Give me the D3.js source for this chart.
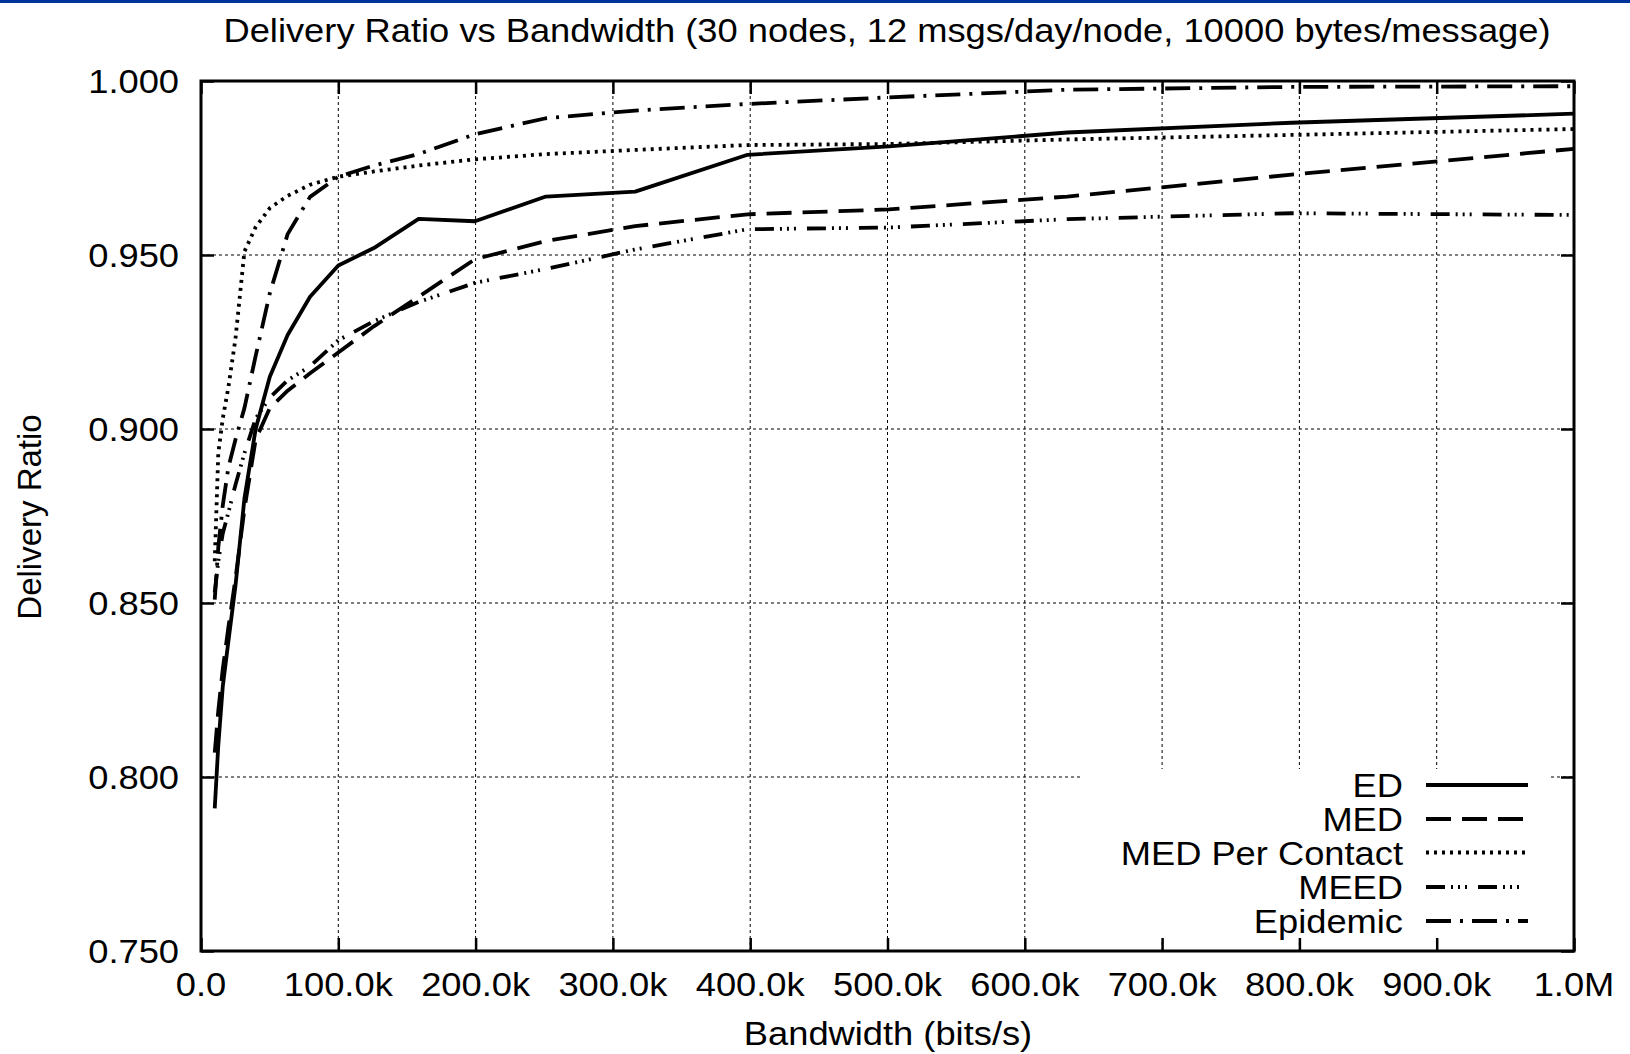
<!DOCTYPE html>
<html><head><meta charset="utf-8">
<script src="https://cdn.jsdelivr.net/npm/d3@7"></script>
<style>html,body{margin:0;padding:0;background:#fff;} svg{display:block;}</style>
</head><body>
<script>
// ---------- data ----------
const title = "Delivery Ratio vs Bandwidth (30 nodes, 12 msgs/day/node, 10000 bytes/message)";
const xLabel = "Bandwidth (bits/s)";
const yLabel = "Delivery Ratio";

const bandwidth = [10000, 12589, 15849, 19953, 25119, 31623, 39811, 50119, 63096, 79433,
  100000, 125893, 158489, 199526, 251189, 316228, 398107, 501187, 630957, 794328, 1000000];

const seriesNames = ["ED", "MED", "MED Per Contact", "MEED", "Epidemic"];
const edValues = [0.791, 0.809, 0.826, 0.839, 0.855, 0.880, 0.900, 0.915, 0.927, 0.938,
  0.947, 0.952, 0.9604, 0.9597, 0.9668, 0.9682, 0.9788, 0.9812, 0.9852, 0.9880, 0.9906];
const medValues = [0.807, 0.819, 0.831, 0.843, 0.857, 0.877, 0.897, 0.906, 0.911, 0.916,
  0.922, 0.9295, 0.938, 0.9488, 0.954, 0.9583, 0.9617, 0.9631, 0.9668, 0.9731, 0.9805];
const medPerContactValues = [0.862, 0.893, 0.903, 0.912, 0.926, 0.951, 0.958, 0.9635, 0.967, 0.9702,
  0.9725, 0.974, 0.9757, 0.9775, 0.979, 0.9802, 0.9816, 0.9819, 0.9832, 0.9845, 0.9862];
const meedValues = [0.853, 0.862, 0.870, 0.876, 0.884, 0.893, 0.903, 0.909, 0.914, 0.918,
  0.9255, 0.931, 0.9365, 0.942, 0.946, 0.9516, 0.9574, 0.9579, 0.9603, 0.9620, 0.9615];
const epidemicValues = [0.851, 0.866, 0.878, 0.889, 0.897, 0.906, 0.921, 0.939, 0.956, 0.9667,
  0.9725, 0.9757, 0.979, 0.9847, 0.9893, 0.9915, 0.9934, 0.9953, 0.9975, 0.9983, 0.9985];

const xTicks = [0, 100000, 200000, 300000, 400000, 500000, 600000, 700000, 800000, 900000, 1000000];
const xTickLabels = ["0.0", "100.0k", "200.0k", "300.0k", "400.0k", "500.0k", "600.0k", "700.0k", "800.0k", "900.0k", "1.0M"];
const yTicks = [0.75, 0.80, 0.85, 0.90, 0.95, 1.00];
const yTickLabels = ["0.750", "0.800", "0.850", "0.900", "0.950", "1.000"];

// ---------- styles ----------
const dashes = ["none", "25,11", "3,5", "19,6,2,5,2,5,2,11", "25,9,3,9"];
const W = 1630, H = 1054;
const m = {l: 201, r: 1574, t: 81, b: 951};
const FS = 33, SX = 1.1;
const LW = 3.8;
const FONT = "'Liberation Sans', Arial, Helvetica, sans-serif";

const svg = d3.select("body").append("svg").attr("width", W).attr("height", H)
  .style("font-family", FONT);
svg.append("rect").attr("width", W).attr("height", H).attr("fill", "#fff");
svg.append("rect").attr("x", 0).attr("y", 0).attr("width", W).attr("height", 3).attr("fill", "#003399");

const x = d3.scaleLinear().domain([0, 1000000]).range([m.l, m.r]);
const y = d3.scaleLinear().domain([0.75, 1.0]).range([m.b, m.t]);

// grid
const grid = svg.append("g").attr("stroke", "#000").attr("stroke-width", 1).attr("stroke-dasharray", "3,3");
xTicks.slice(1, -1).forEach(v => grid.append("line")
  .attr("x1", x(v)).attr("x2", x(v)).attr("y1", m.b).attr("y2", m.t));
yTicks.slice(1, -1).forEach(v => grid.append("line")
  .attr("x1", m.l).attr("x2", m.r).attr("y1", y(v)).attr("y2", y(v)));

// legend box (covers grid)
svg.append("rect").attr("x", 1081).attr("y", 769).attr("width", 469).attr("height", 172).attr("fill", "#fff");

// series
const allSeries = [edValues, medValues, medPerContactValues, meedValues, epidemicValues];
const line = d3.line().x((d, i) => x(bandwidth[i])).y(d => y(d));
allSeries.forEach((vals, k) => {
  svg.append("path").datum(vals).attr("d", line)
    .attr("fill", "none").attr("stroke", "#000").attr("stroke-width", LW)
    .attr("stroke-linejoin", "round")
    .attr("stroke-dasharray", dashes[k]);
});

// axes ticks (inside, all four sides)
const tk = 13;
const axG = svg.append("g");
axG.append("g").attr("transform", `translate(0,${m.b})`)
  .call(d3.axisBottom(x).tickValues(xTicks).tickSize(-tk).tickFormat(""));
axG.append("g").attr("transform", `translate(0,${m.t})`)
  .call(d3.axisTop(x).tickValues(xTicks).tickSize(-tk).tickFormat(""));
axG.append("g").attr("transform", `translate(${m.l},0)`)
  .call(d3.axisLeft(y).tickValues(yTicks).tickSize(-tk).tickFormat(""));
axG.append("g").attr("transform", `translate(${m.r},0)`)
  .call(d3.axisRight(y).tickValues(yTicks).tickSize(-tk).tickFormat(""));
axG.selectAll(".domain").remove();
axG.selectAll(".tick line").attr("stroke", "#000").attr("stroke-width", 2.5);
svg.append("rect").attr("x", m.l).attr("y", m.t).attr("width", m.r - m.l).attr("height", m.b - m.t)
  .attr("fill", "none").attr("stroke", "#000").attr("stroke-width", 3);

// text helper
function txt(px, py, s, anchor) {
  svg.append("text").attr("transform", `translate(${px},${py}) scale(${SX},1)`)
    .attr("text-anchor", anchor).attr("font-size", FS).attr("fill", "#000").text(s);
}
txt(887, 42, title, "middle");
yTicks.forEach((v, i) => txt(179, y(v) + 12, yTickLabels[i], "end"));
xTicks.forEach((v, i) => txt(x(v), 996, xTickLabels[i], "middle"));
txt(888, 1045, xLabel, "middle");
svg.append("text").attr("transform", `translate(41,517) rotate(-90)`)
  .attr("text-anchor", "middle").attr("font-size", FS).text(yLabel);

// legend entries
const rowY = [785, 819, 852.5, 887, 921];
seriesNames.forEach((name, k) => {
  txt(1403, rowY[k] + 12, name, "end");
  svg.append("line").attr("x1", 1426).attr("x2", 1528).attr("y1", rowY[k]).attr("y2", rowY[k])
    .attr("stroke", "#000").attr("stroke-width", LW).attr("stroke-dasharray", dashes[k]);
});
</script>
</body></html>
